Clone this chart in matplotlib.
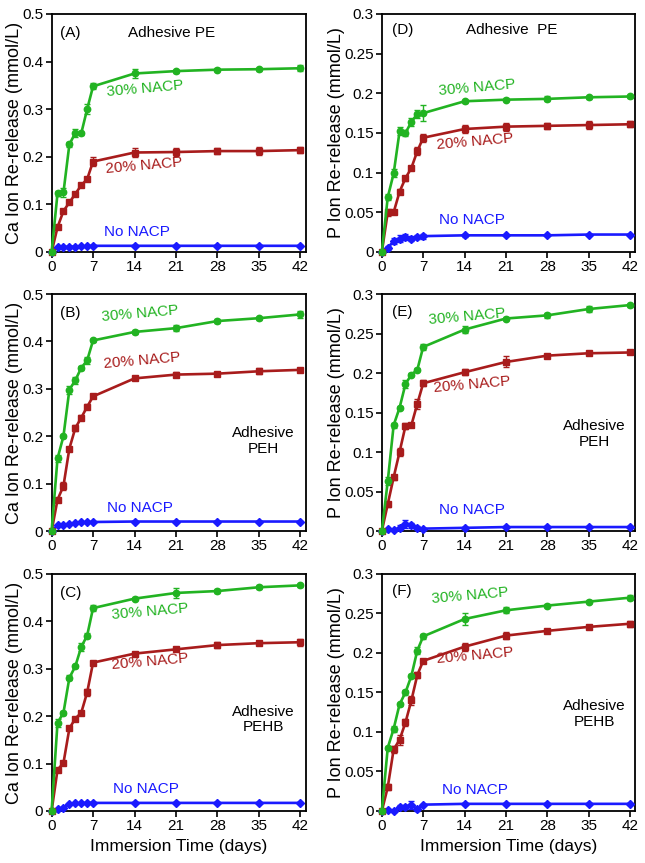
import matplotlib
matplotlib.use("Agg")
import matplotlib.pyplot as plt

plt.rcParams['font.family'] = ['Liberation Sans', 'DejaVu Sans']

days = [0, 1, 2, 3, 4, 5, 6, 7, 14, 21, 28, 35, 42]
x_ticks = [0, 7, 14, 21, 28, 35, 42]
ca_ticks = [0, 0.1, 0.2, 0.3, 0.4, 0.5]
ca_tick_labels = ["0", "0.1", "0.2", "0.3", "0.4", "0.5"]
p_ticks = [0, 0.05, 0.1, 0.15, 0.2, 0.25, 0.3]
p_tick_labels = ["0", "0.05", "0.1", "0.15", "0.2", "0.25", "0.3"]

# Panel A: Ca, Adhesive PE
A_30 = [0, 0.123, 0.125, 0.226, 0.250, 0.249, 0.300, 0.348, 0.375, 0.380, 0.383, 0.384, 0.386]
A_30e = [0, 0.005, 0.010, 0.006, 0.008, 0.003, 0.010, 0.006, 0.010, 0.003, 0.003, 0.003, 0.006]
A_20 = [0, 0.052, 0.086, 0.104, 0.122, 0.140, 0.153, 0.190, 0.209, 0.210, 0.212, 0.212, 0.214]
A_20e = [0, 0.004, 0.004, 0.003, 0.003, 0.003, 0.004, 0.010, 0.010, 0.008, 0.006, 0.008, 0.007]
A_0 = [0, 0.010, 0.010, 0.011, 0.011, 0.012, 0.012, 0.013, 0.013, 0.013, 0.013, 0.013, 0.013]
A_0e = [0, 0.001, 0.001, 0.001, 0.001, 0.001, 0.001, 0.001, 0.001, 0.001, 0.001, 0.001, 0.001]

# Panel B: Ca, Adhesive PEH
B_30 = [0, 0.153, 0.200, 0.298, 0.318, 0.344, 0.360, 0.402, 0.420, 0.428, 0.443, 0.449, 0.457]
B_30e = [0, 0.008, 0.003, 0.008, 0.007, 0.004, 0.008, 0.003, 0.004, 0.007, 0.004, 0.003, 0.008]
B_20 = [0, 0.066, 0.095, 0.174, 0.217, 0.239, 0.262, 0.284, 0.322, 0.330, 0.332, 0.337, 0.340]
B_20e = [0, 0.003, 0.008, 0.004, 0.006, 0.005, 0.005, 0.004, 0.004, 0.006, 0.004, 0.006, 0.004]
B_0 = [0, 0.012, 0.013, 0.015, 0.017, 0.018, 0.019, 0.019, 0.020, 0.020, 0.020, 0.020, 0.020]
B_0e = [0, 0.001, 0.001, 0.001, 0.001, 0.001, 0.001, 0.001, 0.001, 0.001, 0.001, 0.001, 0.001]

# Panel C: Ca, Adhesive PEHB
C_30 = [0, 0.186, 0.207, 0.281, 0.305, 0.346, 0.370, 0.428, 0.448, 0.460, 0.464, 0.472, 0.476]
C_30e = [0, 0.008, 0.004, 0.005, 0.003, 0.008, 0.006, 0.006, 0.003, 0.010, 0.005, 0.004, 0.003]
C_20 = [0, 0.087, 0.101, 0.174, 0.195, 0.207, 0.250, 0.313, 0.332, 0.341, 0.350, 0.354, 0.356]
C_20e = [0, 0.003, 0.003, 0.004, 0.004, 0.004, 0.008, 0.004, 0.004, 0.004, 0.007, 0.004, 0.007]
C_0 = [0, 0.004, 0.007, 0.015, 0.016, 0.016, 0.017, 0.017, 0.017, 0.017, 0.017, 0.017, 0.017]
C_0e = [0, 0.001, 0.001, 0.001, 0.001, 0.001, 0.001, 0.001, 0.001, 0.001, 0.001, 0.001, 0.001]

# Panel D: P, Adhesive PE
D_30 = [0, 0.069, 0.099, 0.152, 0.150, 0.164, 0.174, 0.175, 0.190, 0.192, 0.193, 0.195, 0.196]
D_30e = [0, 0.004, 0.005, 0.005, 0.004, 0.005, 0.005, 0.010, 0.002, 0.002, 0.003, 0.002, 0.002]
D_20 = [0, 0.050, 0.050, 0.076, 0.093, 0.106, 0.127, 0.144, 0.155, 0.158, 0.159, 0.160, 0.161]
D_20e = [0, 0.004, 0.002, 0.003, 0.003, 0.003, 0.005, 0.005, 0.005, 0.005, 0.004, 0.005, 0.004]
D_0 = [0, 0.005, 0.014, 0.017, 0.019, 0.017, 0.019, 0.020, 0.021, 0.021, 0.021, 0.022, 0.022]
D_0e = [0, 0.002, 0.004, 0.004, 0.004, 0.003, 0.003, 0.003, 0.002, 0.001, 0.001, 0.001, 0.001]

# Panel E: P, Adhesive PEH
E_30 = [0, 0.063, 0.134, 0.156, 0.186, 0.198, 0.204, 0.233, 0.255, 0.269, 0.273, 0.281, 0.286]
E_30e = [0, 0.005, 0.003, 0.002, 0.005, 0.002, 0.002, 0.004, 0.004, 0.002, 0.003, 0.004, 0.002]
E_20 = [0, 0.034, 0.068, 0.100, 0.133, 0.134, 0.161, 0.187, 0.201, 0.214, 0.222, 0.225, 0.226]
E_20e = [0, 0.003, 0.003, 0.005, 0.004, 0.002, 0.006, 0.004, 0.004, 0.007, 0.002, 0.002, 0.002]
E_0 = [0, 0.002, 0.001, 0.004, 0.009, 0.007, 0.004, 0.003, 0.004, 0.005, 0.005, 0.005, 0.005]
E_0e = [0, 0.001, 0.001, 0.003, 0.005, 0.003, 0.002, 0.001, 0.001, 0.001, 0.001, 0.001, 0.001]

# Panel F: P, Adhesive PEHB
F_30 = [0, 0.080, 0.104, 0.135, 0.150, 0.171, 0.203, 0.221, 0.243, 0.254, 0.260, 0.265, 0.270]
F_30e = [0, 0.002, 0.004, 0.002, 0.003, 0.002, 0.004, 0.003, 0.008, 0.004, 0.002, 0.002, 0.003]
F_20 = [0, 0.030, 0.078, 0.090, 0.112, 0.140, 0.172, 0.190, 0.208, 0.222, 0.228, 0.233, 0.237]
F_20e = [0, 0.004, 0.004, 0.006, 0.005, 0.006, 0.004, 0.002, 0.005, 0.004, 0.002, 0.002, 0.004]
F_0 = [0, 0.001, 0.000, 0.005, 0.005, 0.008, 0.002, 0.008, 0.009, 0.009, 0.009, 0.009, 0.009]
F_0e = [0, 0.001, 0.001, 0.002, 0.002, 0.005, 0.002, 0.001, 0.001, 0.001, 0.001, 0.001, 0.001]

GREEN = '#22b322'
RED = '#a81c1c'
BLUE = '#1a1aff'

panels = [
    dict(letter='(A)', ion='Ca', ads='Adhesive PE', ads_pos=(20.2, 0.46),
         s30=(A_30, A_30e), s20=(A_20, A_20e), s0=(A_0, A_0e),
         rect=[0.080, 0.708, 0.394, 0.2758],
         p30=(15.7, 0.343), p20=(15.6, 0.181), p0=(14.4, 0.042), let_pos=(3.2, 0.46)),
    dict(letter='(B)', ion='Ca', ads='Adhesive\nPEH', ads_pos=(35.7, 0.19),
         s30=(B_30, B_30e), s20=(B_20, B_20e), s0=(B_0, B_0e),
         rect=[0.080, 0.3847, 0.394, 0.2746],
         p30=(14.9, 0.459), p20=(15.2, 0.36), p0=(14.9, 0.049), let_pos=(3.2, 0.46)),
    dict(letter='(C)', ion='Ca', ads='Adhesive\nPEHB', ads_pos=(35.7, 0.193),
         s30=(C_30, C_30e), s20=(C_20, C_20e), s0=(C_0, C_0e),
         rect=[0.080, 0.0603, 0.394, 0.2746],
         p30=(16.6, 0.42), p20=(16.6, 0.315), p0=(16.0, 0.047), let_pos=(3.2, 0.46)),
    dict(letter='(D)', ion='P', ads='Adhesive  PE', ads_pos=(22.0, 0.28),
         s30=(D_30, D_30e), s20=(D_20, D_20e), s0=(D_0, D_0e),
         rect=[0.592, 0.708, 0.393, 0.2758],
         p30=(16.1, 0.207), p20=(15.8, 0.139), p0=(15.3, 0.04), let_pos=(3.5, 0.28)),
    dict(letter='(E)', ion='P', ads='Adhesive\nPEH', ads_pos=(35.9, 0.123),
         s30=(E_30, E_30e), s20=(E_20, E_20e), s0=(E_0, E_0e),
         rect=[0.592, 0.3847, 0.393, 0.2746],
         p30=(14.4, 0.271), p20=(15.3, 0.185), p0=(15.3, 0.026), let_pos=(3.4, 0.277)),
    dict(letter='(F)', ion='P', ads='Adhesive\nPEHB', ads_pos=(35.9, 0.123),
         s30=(F_30, F_30e), s20=(F_20, F_20e), s0=(F_0, F_0e),
         rect=[0.592, 0.0603, 0.393, 0.2746],
         p30=(15.0, 0.273), p20=(15.8, 0.197), p0=(15.8, 0.026), let_pos=(3.4, 0.279)),
]

fig = plt.figure(figsize=(6.45, 8.63), dpi=100)

for i, p in enumerate(panels):
    ax = fig.add_axes(p['rect'])
    for (vals, errs), col, mk, ms in [(p['s0'], BLUE, 'D', 3.6),
                                      (p['s20'], RED, 's', 4.6),
                                      (p['s30'], GREEN, 'o', 4.6)]:
        ax.errorbar(days, vals, yerr=errs, color=col, marker=mk, markersize=ms,
                    linewidth=1.9, elinewidth=1.0, capsize=2.2, capthick=1.0,
                    clip_on=False, zorder=3)
    ax.set_xlim(0, 42.9)
    if p['ion'] == 'Ca':
        ax.set_ylim(0, 0.5)
        ax.set_yticks(ca_ticks)
        ax.set_yticklabels(ca_tick_labels)
        ax.set_ylabel('Ca Ion Re-release (mmol/L)', fontsize=13)
        ax.yaxis.set_label_coords(-0.113, 0.5)
    else:
        ax.set_ylim(0, 0.3)
        ax.set_yticks(p_ticks)
        ax.set_yticklabels(p_tick_labels)
        ax.set_ylabel('P Ion Re-release (mmol/L)', fontsize=13)
        ax.yaxis.set_label_coords(-0.145, 0.5)
    ax.set_xticks(x_ticks)
    ax.set_xticklabels([str(t) for t in x_ticks])
    ax.tick_params(direction='out', length=4, width=1.2, labelsize=11, pad=2,
                   top=False, right=False)
    for s in ax.spines.values():
        s.set_linewidth(1.3)
    if i in (2, 5):
        ax.set_xlabel('Immersion Time (days)', fontsize=12.5, labelpad=4)

    ax.text(*p['let_pos'], p['letter'], fontsize=11, ha='center', va='center')
    ax.text(*p['ads_pos'], p['ads'], fontsize=11, ha='center', va='center',
            multialignment='center', linespacing=1.15)
    ax.text(*p['p30'], '30% NACP', fontsize=11, color=GREEN, ha='center', va='center',
            rotation=5)
    ax.text(*p['p20'], '20% NACP', fontsize=11, color=RED, ha='center', va='center',
            rotation=5)
    ax.text(*p['p0'], 'No NACP', fontsize=11, color=BLUE, ha='center', va='center')

fig.savefig('out.png', dpi=100)
